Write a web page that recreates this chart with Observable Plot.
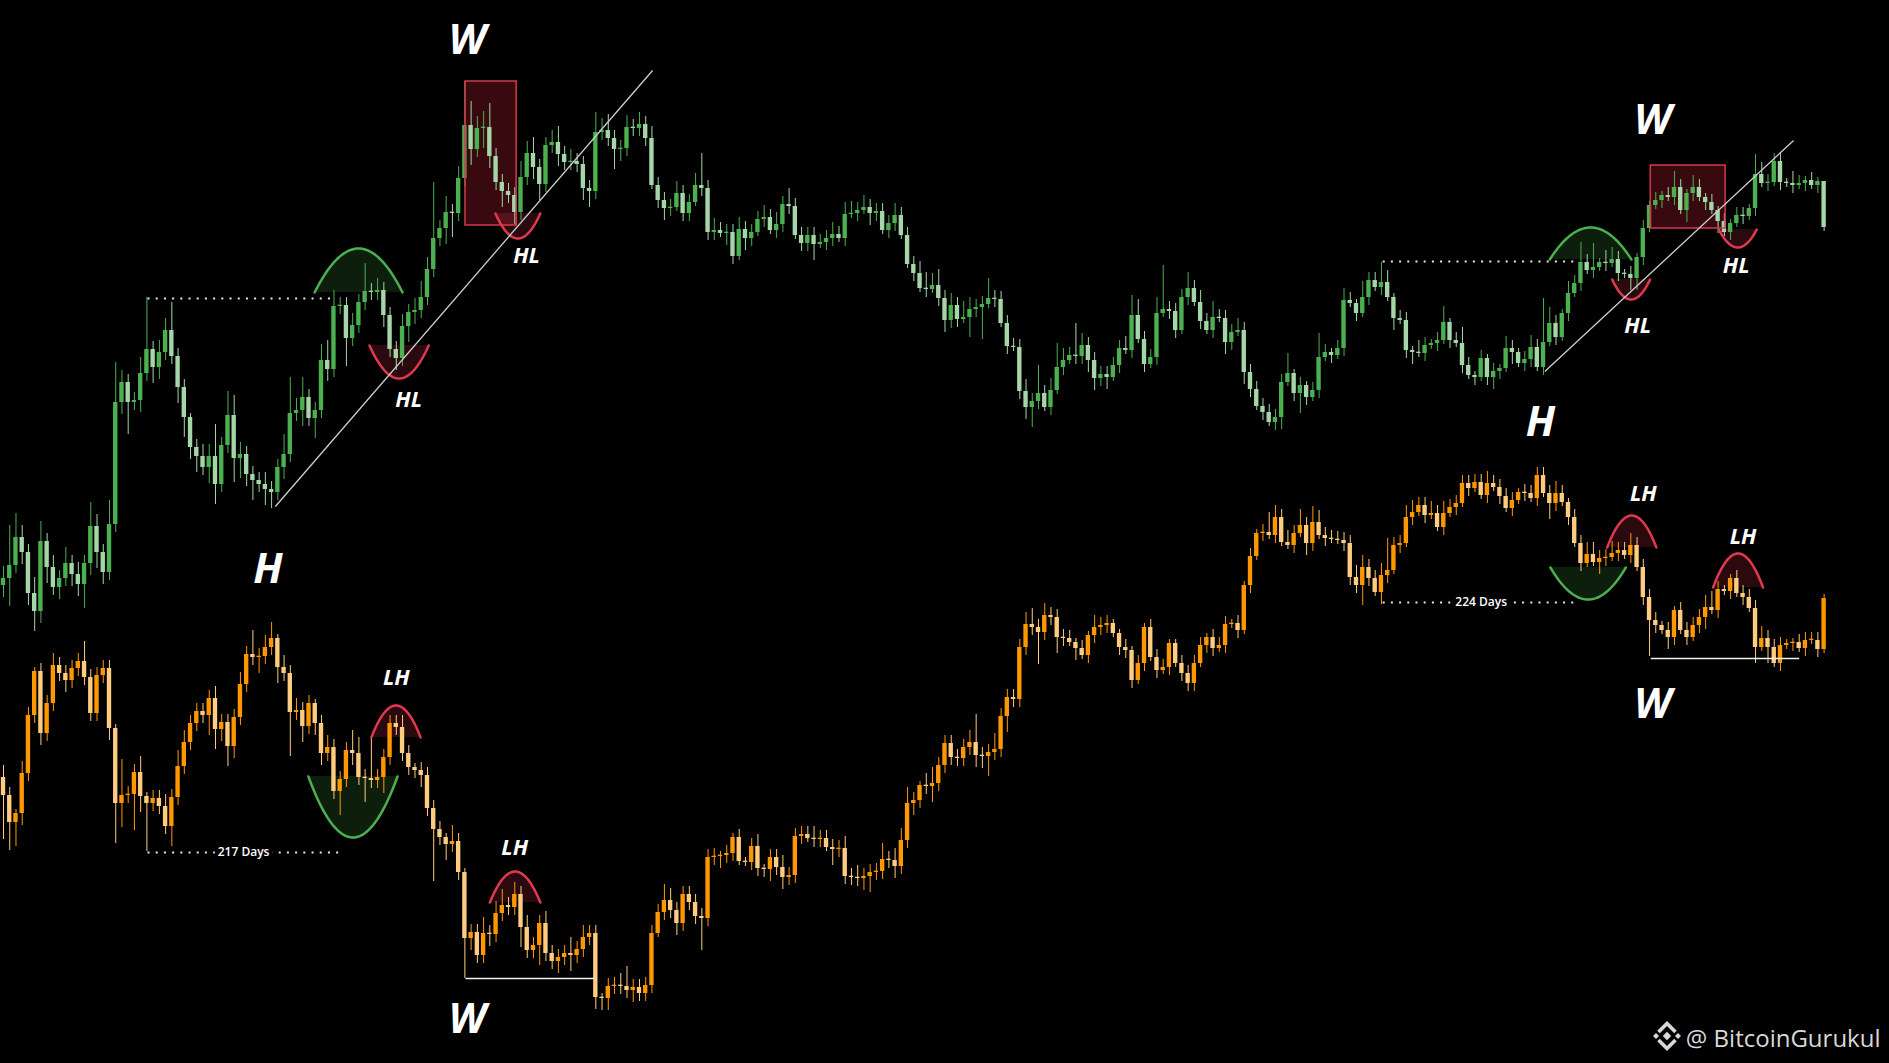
<!DOCTYPE html>
<html>
<head>
<meta charset="utf-8">
<script src="https://cdn.jsdelivr.net/npm/d3@7"></script>
<script src="https://cdn.jsdelivr.net/npm/@observablehq/plot@0.6"></script>
<style>
html,body{margin:0;padding:0;background:#000;overflow:hidden}
</style>
</head>
<body>
<div id="chart"></div>
<script>
// ---------- DATA (price units, candle index 0..292) ----------
const greenOpen0 = 478;
const greenClose = [
485,498,526,511,470,452,522,496,476,485, 500,489,479,500,537,511,491,539,661,681,
661,663,690,714,696,711,733,707,676,646, 616,607,596,607,579,618,648,605,609,589,
583,579,574,571,596,609,650,653,666,645, 653,703,694,757,758,725,738,761,772,771,
773,748,714,705,737,751,753,766,794,825, 835,851,850,885,938,914,935,936,907,881,
872,868,851,886,910,896,879,918,921,909, 901,902,899,875,872,931,933,925,914,915,
936,935,939,925,878,863,855,856,870,850, 861,878,875,831,833,830,831,807,834,825,
831,844,846,833,839,859,857,828,820,828, 819,821,825,829,825,849,850,853,856,850,
852,833,840,848,828,799,790,775,774,778, 765,743,758,744,746,754,756,759,765,764,
740,717,716,672,656,662,670,656,673,696, 703,708,707,718,703,685,689,686,698,715,
713,748,724,699,706,750,754,752,733,766, 775,761,742,733,746,745,721,731,733,691,
674,657,651,641,646,681,690,670,678,666, 673,706,711,708,715,763,760,750,766,783,
776,781,766,745,743,713,711,710,718,720, 723,741,723,720,698,688,686,705,686,692,
695,715,711,700,704,716,696,721,740,726, 750,770,780,801,793,796,801,800,804,790,
789,785,806,835,858,863,868,866,876,853, 870,876,866,861,853,842,831,840,848,847,
855,889,880,881,902,881,880,878,880,883, 878,882,836
];
// wick lengths, one base-36 digit per candle (x WICK_UNIT price units)
const greenUpperWick =
"3a63245232 42326326a3 224d233722 1233826532 2232259352 2454223272 322232343e 2423b63462 2224342234 2322253422 323" +
"2322232238 2322232223 2324222222 3233232222 3222343423 2432252222 2327236328 3222222354 224b222423 2422232222 22" +
"2512126212 3214225312 2132124124 2121213212 32b4213252 6133212121 2124213212 1212215322 21321210";
const greenLowerWick =
"3723353423 2336343223 8232432245 3424522653 5244232242 5232272222 2323243222 2462242532 4232234223 2223422253 222" +
"2123212212 2213213212 1222122412 2121213212 2112121232 2152812121 2352121212 2332312121 2121221212 1213213212 12" +
"3125212121 2121212131 2312121212 1212321312 2121212121 2121213321 1212132121 3121212121 21212121";

const orangeOpen0 = 286;
const orangeClose = [
268,241,250,290,348,392,330,360,398,390, 383,395,402,386,350,388,395,335,260,268,
269,291,267,260,265,257,237,266,297,321, 340,352,348,365,334,341,317,346,379,409,
406,407,416,425,396,390,351,353,337,360, 340,310,316,272,284,313,310,286,285,283,
286,306,340,336,310,296,293,288,255,234, 226,219,222,191,125,131,108,130,129,150,
158,156,169,136,113,118,140,110,102,106, 110,108,114,126,130,66,65,77,78,77,
73,76,70,78,130,151,163,153,140,169, 161,147,145,206,207,208,210,226,202,201,
217,195,194,206,196,186,188,227,229,225, 224,225,216,214,215,187,186,185,187,191,
192,204,203,197,223,260,263,278,277,280, 298,320,306,305,316,321,308,307,311,314,
347,366,364,416,439,436,431,448,446,426, 425,421,415,408,428,436,438,440,430,416,
413,383,400,436,406,393,396,420,400,390, 380,400,418,426,415,418,439,440,433,478,
507,530,531,528,546,521,518,530,538,520, 541,528,525,524,523,520,486,478,496,485,
471,488,493,518,520,546,551,558,548,550, 536,550,556,560,580,575,581,568,580,576,
567,555,563,571,570,565,588,570,560,570, 561,546,520,500,509,501,505,506,510,513,
508,518,496,466,443,438,433,426,453,433, 426,438,446,456,453,474,472,485,470,466,
455,416,425,416,400,418,420,421,415,423, 423,414,465
];
const orangeUpperWick =
"3213212232 2225222219 2241223243 2222322232 6234132322 123222542a 2222" +
"3212222142 1224234232 3223222423 2212235222 2243222222 2121212312 2322223222 2323222423 3421342222 2372242222 342322" +
"2212132211 2121222112 2221222121 2125323242 4322222332 2382233223 2322222232 2221222223 2122332232 2322221212 2223421122 2232221122 221";
const orangeLowerWick =
"b763223222 32222223a6 294c222522 2225535322 242242b242 3322623262 2422" +
"22232d2422 a322322225 2252232422 2333222322 2122322282 2322112223 2322212214 2222342223 2232242222 2233522422 228224" +
"2131222212 2212121212 2212212121 2121211213 2121122252 1321212121 1212121121 2121212142 1212113212 1212921321 2123121212 1414121212 121";

const WICK_UNIT = 4;

// ---------- ANNOTATIONS (in candle-index / price units) ----------
const boxes = [
  {x1: 74.1, x2: 82.3, y1: 838, y2: 982},
  {x1: 264.2, x2: 276.2, y1: 835, y2: 898}
];
const trendlines = [
  {x1: 43.6, y1: 557, x2: 104.1, y2: 993},
  {x1: 247.2, y1: 692, x2: 287.1, y2: 923}
];
const dottedLines = [
  {x1: 23.1, x2: 53.2, y: 765},
  {x1: 221.2, x2: 252.6, y: 802},
  {x1: 23.1, x2: 54.0, y: 211},
  {x1: 221.2, x2: 252.1, y: 461}
];
const supportLines = [
  {x1: 74.1, x2: 94.8, y: 85},
  {x1: 264.2, x2: 288.0, y: 405}
];
const arcs = [
  {id: "g1", kind: "green", x1: 49.9, x2: 64.0, base: 771, tip: 815},
  {id: "r1", kind: "red",   x1: 58.7, x2: 68.2, base: 718, tip: 685},
  {id: "r2", kind: "red",   x1: 78.9, x2: 86.1, base: 850, tip: 825},
  {id: "g2", kind: "green", x1: 248.0, x2: 261.1, base: 804, tip: 836},
  {id: "r3", kind: "red",   x1: 258.0, x2: 264.1, base: 784, tip: 764},
  {id: "r4", kind: "red",   x1: 275.1, x2: 281.2, base: 834, tip: 816},
  {id: "g3", kind: "green", x1: 48.9, x2: 63.2, base: 287, tip: 226},
  {id: "r5", kind: "red",   x1: 59.0, x2: 66.9, base: 326, tip: 358},
  {id: "r6", kind: "red",   x1: 78.0, x2: 86.1, base: 161, tip: 192},
  {id: "g4", kind: "green", x1: 248.1, x2: 260.2, base: 496, tip: 464},
  {id: "r7", kind: "red",   x1: 257.2, x2: 265.1, base: 516, tip: 548},
  {id: "r8", kind: "red",   x1: 274.2, x2: 282.2, base: 476, tip: 510}
];
const bigLabels = [
  {x: 74.4, y: 1023, t: "W"}, {x: 264.5, y: 943, t: "W"},
  {x: 74.4, y: 44, t: "W"},   {x: 264.5, y: 359, t: "W"},
  {x: 42.4, y: 494, t: "H"},  {x: 246.5, y: 641, t: "H"}
];
const smallLabels = [
  {x: 65.0, y: 664, t: "HL"}, {x: 83.9, y: 808, t: "HL"},
  {x: 262.1, y: 738, t: "HL"}, {x: 277.9, y: 798, t: "HL"},
  {x: 63.0, y: 386, t: "LH"}, {x: 82.0, y: 216, t: "LH"},
  {x: 263.0, y: 570, t: "LH"}, {x: 279.0, y: 527, t: "LH"}
];
const dayLabels = [
  {x: 38.5, y: 211, t: "217 Days"},
  {x: 237.0, y: 461, t: "224 Days"}
];

// ---------- BUILD ----------
function candles(open0, closes, up, lo) {
  const U = up.replace(/\s/g, ""), L = lo.replace(/\s/g, "");
  return closes.map((c, i) => {
    const o = i === 0 ? open0 : closes[i - 1];
    const top = Math.max(o, c), bot = Math.min(o, c);
    return {
      i, open: o, close: c,
      bTop: top - bot < 1.3 ? bot + 1.3 : top, bBot: bot,
      high: top + parseInt(U[i], 36) * WICK_UNIT,
      low: bot - parseInt(L[i], 36) * WICK_UNIT,
      up: c >= o
    };
  });
}
const green = candles(greenOpen0, greenClose, greenUpperWick, greenLowerWick);
const orange = candles(orangeOpen0, orangeClose, orangeUpperWick, orangeLowerWick);

// parabolic annotation arcs between chord ends and tip
const arcPts = arcs.flatMap(a => d3.range(0, 49).map(k => {
  const u = -1 + 2 * k / 48;
  return {id: a.id, kind: a.kind, base: a.base,
          x: (a.x1 + a.x2) / 2 + (a.x2 - a.x1) / 2 * u,
          y: a.base + (a.tip - a.base) * (1 - u * u)};
}));
const gArc = arcPts.filter(d => d.kind === "green");
const rArc = arcPts.filter(d => d.kind === "red");

const GUP = "#4caf50", GDN = "#a5d6a7", OUP = "#ff9800", ODN = "#ffcc80";
const HALF = 0.35;

function candleMarks(data, upC, dnC) {
  return [
    Plot.ruleX(data, {x: "i", y1: "low", y2: "high", stroke: d => d.up ? upC : dnC, strokeWidth: 1}),
    Plot.rect(data, {x1: d => d.i - HALF, x2: d => d.i + HALF, y1: "bBot", y2: "bTop",
                     fill: d => d.up ? upC : dnC})
  ];
}

const chart = Plot.plot({
  width: 1889, height: 1063, margin: 0,
  style: {background: "#000", fontFamily: "Open Sans, sans-serif"},
  x: {domain: [-0.4812, 302.486], axis: null},
  y: {domain: [0, 1063], axis: null},
  marks: [
    Plot.rect(boxes, {x1: "x1", x2: "x2", y1: "y1", y2: "y2", fill: "#5a1018", fillOpacity: 0.62}),
    Plot.areaY(gArc, {x: "x", y1: "base", y2: "y", z: "id", fill: "#4caf50", fillOpacity: 0.17}),
    Plot.areaY(rArc, {x: "x", y1: "base", y2: "y", z: "id", fill: "#d8344a", fillOpacity: 0.2}),
    ...candleMarks(green, GUP, GDN),
    ...candleMarks(orange, OUP, ODN),
    Plot.rect(boxes, {x1: "x1", x2: "x2", y1: "y1", y2: "y2", fill: "none", stroke: "#d23a4c", strokeWidth: 1.5}),
    Plot.line(gArc, {x: "x", y: "y", z: "id", stroke: "#4caf50", strokeWidth: 2.5}),
    Plot.line(rArc, {x: "x", y: "y", z: "id", stroke: "#e0394f", strokeWidth: 2.5}),
    Plot.link(trendlines, {x1: "x1", y1: "y1", x2: "x2", y2: "y2", stroke: "#d0d0d0", strokeWidth: 1.3}),
    Plot.link(dottedLines, {x1: "x1", x2: "x2", y1: "y", y2: "y", stroke: "#e8e8e8", strokeWidth: 2, strokeDasharray: "2,6.2"}),
    Plot.link(supportLines, {x1: "x1", x2: "x2", y1: "y", y2: "y", stroke: "#f2f2f2", strokeWidth: 1.6}),
    Plot.text(dayLabels, {x: "x", y: "y", text: "t", fill: "#ffffff", stroke: "#000", strokeWidth: 8, fontSize: 12, fontWeight: 600}),
    Plot.text(bigLabels, {x: "x", y: "y", text: "t", fill: "#ffffff", fontSize: 42, fontWeight: 700, fontStyle: "italic"}),
    Plot.text(smallLabels, {x: "x", y: "y", text: "t", fill: "#ffffff", fontSize: 22, fontWeight: 700, fontStyle: "italic"}),
    Plot.text(["@ BitcoinGurukul"], {frameAnchor: "bottom-right", textAnchor: "end", dx: -9, dy: -17,
                                     fontSize: 24, fill: "#d8d8d8"})
  ]
});
document.getElementById("chart").appendChild(chart);

// Binance-style watermark logo
const logo = d3.select(chart).append("g").attr("transform", "translate(1667,1036)").attr("fill", "#d8d8d8");
const diamond = (cx, cy, r) => `M${cx},${cy - r}L${cx + r},${cy}L${cx},${cy + r}L${cx - r},${cy}Z`;
logo.append("path").attr("d", diamond(0, 0, 4.2));
logo.append("path").attr("d", diamond(-11, 0, 3));
logo.append("path").attr("d", diamond(11, 0, 3));
logo.append("path").attr("d", "M-8.5,-4L0,-12.5L8.5,-4").attr("fill", "none").attr("stroke", "#d8d8d8").attr("stroke-width", 3.6);
logo.append("path").attr("d", "M-8.5,4L0,12.5L8.5,4").attr("fill", "none").attr("stroke", "#d8d8d8").attr("stroke-width", 3.6);
</script>
</body>
</html>
